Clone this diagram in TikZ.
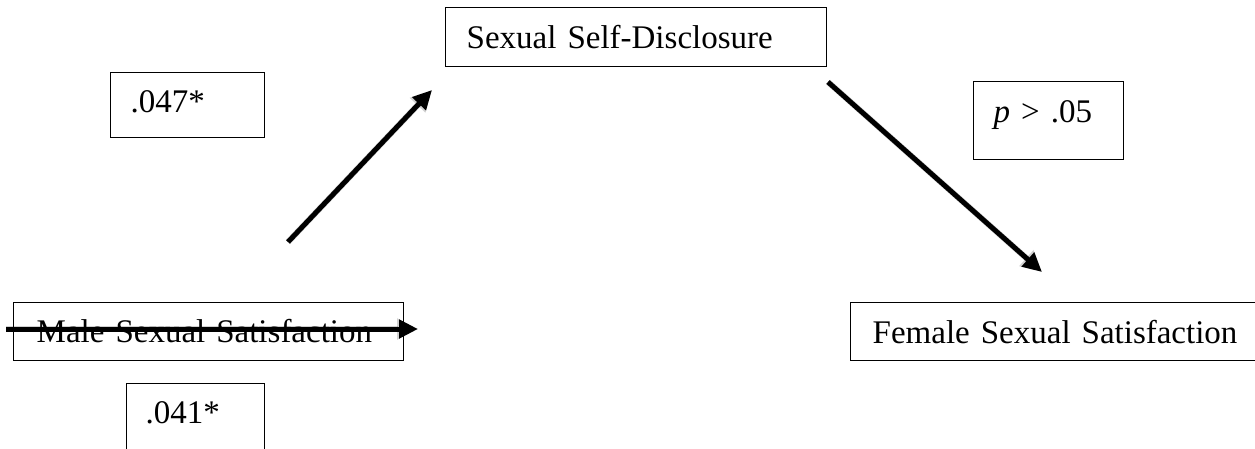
\documentclass[tikz,border=0pt]{standalone}
\usepackage{fontspec}
\setmainfont{Liberation Serif}
\usetikzlibrary{arrows.meta}
\begin{document}
\begin{tikzpicture}[x=1pt,y=-1pt,
  box/.style={draw=black, line width=1.4pt, rectangle, anchor=north west,
    inner ysep=0pt, align=left, text depth=0pt,
    font=\fontsize{33}{39}\selectfont},
  arr/.style={line width=5pt, draw=black, -{Triangle[length=19pt,width=18pt]}},
  arrshade/.style={line width=6pt, draw=black, opacity=0.18, -{Triangle[length=21pt,width=20pt]}}]
\useasboundingbox (0,0) rectangle (1255,448);
\fill[white] (0,0) rectangle (1255,448);

% boxes
\node[box, minimum width=381pt, minimum height=59pt, inner xsep=21pt, text width=339pt, text height=23pt]
  (ssd) at (445,7) {Sexual Self-Disclosure};
\node[box, minimum width=154pt, minimum height=65pt, inner xsep=20pt, text width=114pt, text height=15pt]
  (b047) at (110,72) {.047*};
\node[box, minimum width=150pt, minimum height=78pt, inner xsep=20pt, text width=110pt, text height=4pt]
  (bp) at (973,81) {\textit{p} > .05};
\node[box, minimum width=390pt, minimum height=58pt, inner xsep=23pt, text width=344pt, text height=22pt]
  (mss) at (13,302) {Male Sexual Satisfaction};
\node[box, minimum width=416pt, minimum height=58pt, inner xsep=22pt, text width=372pt, text height=24pt]
  (fss) at (850,302) {Female Sexual Satisfaction};
\node[box, minimum width=138pt, minimum height=69pt, inner xsep=19pt, text width=100pt, text height=11pt]
  (b041) at (126,383) {.041*};

% arrow end points
\coordinate (a1s) at (288,242);
\coordinate (a1e) at (432,90);
\coordinate (a2s) at (828,82);
\coordinate (a2e) at (1042,272);
\coordinate (a3s) at (6,329);
\coordinate (a3e) at (418,329);

% shadows
\begin{scope}[shift={(2,3)}]
\draw[arrshade] (a1s) -- (a1e);
\draw[arrshade] (a2s) -- (a2e);
\draw[arrshade] (a3s) -- (a3e);
\end{scope}

% arrows
\draw[arr] (a1s) -- (a1e);
\draw[arr] (a2s) -- (a2e);
\draw[arr] (a3s) -- (a3e);
\end{tikzpicture}
\end{document}
